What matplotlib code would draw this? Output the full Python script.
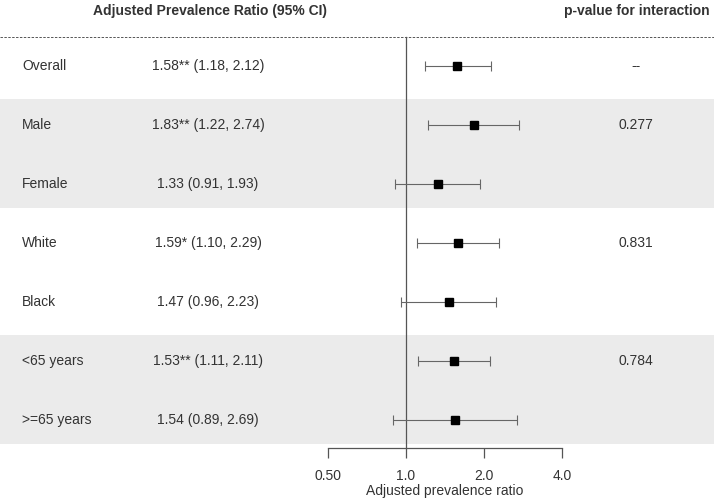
import numpy as np
import matplotlib
matplotlib.use('Agg')
import matplotlib.pyplot as plt

plt.rcParams['font.family'] = ['Liberation Sans', 'DejaVu Sans']
plt.rcParams['text.color'] = '#333333'
plt.rcParams['xtick.labelcolor'] = '#333333'

# subgroup results
labels = ['Overall', 'Male', 'Female', 'White', 'Black', '<65 years', '>=65 years']
ratios = [1.58, 1.83, 1.33, 1.59, 1.47, 1.53, 1.54]
lower = [1.18, 1.22, 0.91, 1.10, 0.96, 1.11, 0.89]
upper = [2.12, 2.74, 1.93, 2.29, 2.23, 2.11, 2.69]
stars = ['**', '**', '', '*', '', '**', '']
pvalues = ['--', '0.277', '', '0.831', '', '0.784', '']
shaded_groups = [(1, 2), (5, 6)]
tick_values = [0.5, 1.0, 2.0, 4.0]
tick_labels = ['0.50', '1.0', '2.0', '4.0']

W, H = 714, 503
fig = plt.figure(figsize=(W / 100, H / 100), dpi=100)
ax = fig.add_axes([0, 0, 1, 1])

# pixel layout helpers
x_one, px_per_doubling = 406, 78
row0, row_step = 66, 59
def row_of(py):
    return (py - row0) / row_step

ax.set_xscale('log', base=2)
ax.set_xlim(2 ** ((0 - x_one) / px_per_doubling), 2 ** ((W - x_one) / px_per_doubling))
ax.set_ylim(row_of(H), row_of(0))

rows = np.arange(len(labels))

# shaded bands
for a, b in shaded_groups:
    ax.axhspan(a - 0.44, b + 0.40, color='#ebebeb', zorder=0, lw=0)

# header
ax.text(210 / W, 1 - 11 / H, 'Adjusted Prevalence Ratio (95% CI)', transform=ax.transAxes,
        ha='center', va='center', fontsize=10, fontweight='bold')
ax.text(637 / W, 1 - 11 / H, 'p-value for interaction', transform=ax.transAxes,
        ha='center', va='center', fontsize=10, fontweight='bold')
ax.axhline(row_of(37), color='#555555', lw=0.7, ls=(0, (2.5, 1.5)))

# reference line at 1
ax.plot([1, 1], [row_of(37), row_of(448)], color='#555555', lw=0.9, zorder=1)

# estimates
ax.errorbar(ratios, rows, xerr=[np.array(ratios) - np.array(lower), np.array(upper) - np.array(ratios)],
            fmt='none', ecolor='#666666', elinewidth=0.8, capsize=3.6, capthick=0.8, zorder=2)
ax.plot(ratios, rows, 's', color='black', ms=5.5, zorder=3)

for i in rows:
    ax.text(22 / W, i, labels[i], transform=ax.get_yaxis_transform(), ha='left', va='center', fontsize=10)
    txt = f'{ratios[i]:.2f}{stars[i]} ({lower[i]:.2f}, {upper[i]:.2f})'
    ax.text(208 / W, i, txt, transform=ax.get_yaxis_transform(), ha='center', va='center', fontsize=10)
    ax.text(636 / W, i, pvalues[i], transform=ax.get_yaxis_transform(), ha='center', va='center', fontsize=10)

# x axis
for s in ['top', 'left', 'right']:
    ax.spines[s].set_visible(False)
ax.spines['bottom'].set_position(('data', row_of(448)))
ax.spines['bottom'].set_bounds(tick_values[0], tick_values[-1])
ax.spines['bottom'].set_color('#555555')
ax.spines['bottom'].set_linewidth(0.9)
ax.set_yticks([])
ax.set_xticks(tick_values)
ax.set_xticklabels(tick_labels)
ax.minorticks_off()
ax.tick_params(axis='x', length=7, width=0.9, color='#555555', labelsize=10, pad=8)
ax.text(445 / W, 1 - 491 / H, 'Adjusted prevalence ratio', transform=ax.transAxes,
        ha='center', va='center', fontsize=10)

fig.savefig('out.png', dpi=100)
